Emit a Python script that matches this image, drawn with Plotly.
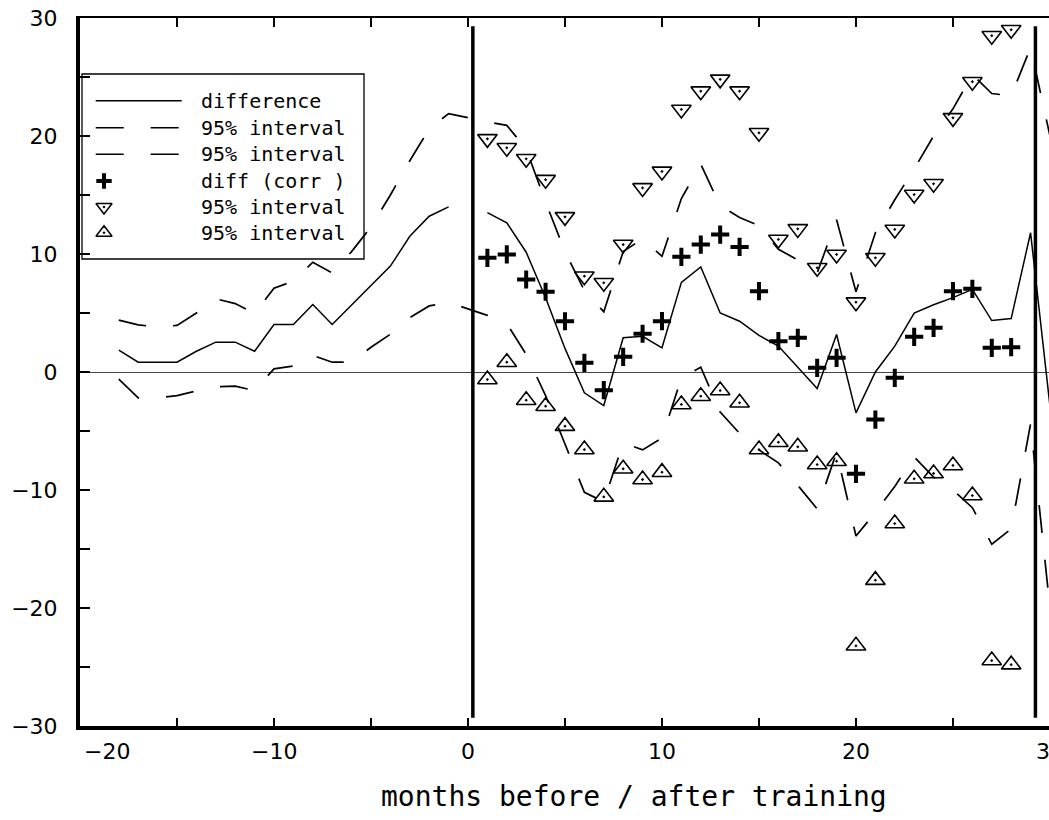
import plotly.graph_objects as go

# ---------------- data ----------------
months_pre = list(range(-18, 0))
months_post = list(range(1, 31))
months_corr = list(range(1, 29))

diff_pre = [1.85, 0.83, 0.83, 0.83, 1.76, 2.53, 2.53, 1.76, 4.03, 4.03,
            5.72, 4.03, 5.68, 7.33, 8.97, 11.5, 13.2, 14.0]
diff_post = [13.5, 12.65, 10.15, 6.3, 2.0, -1.76, -2.84, 2.9, 3.03, 2.05,
             7.6, 8.9, 5.0, 4.3, 3.1, 2.2, 0.4, -1.4, 3.18, -3.46,
             0.0, 2.19, 5.0, 5.7, 6.3, 7.0, 4.36, 4.53, 11.8, -2.9]

upper_pre = [4.4, 4.0, 3.8, 3.95, 5.0, 6.2, 5.8, 4.96, 7.1, 7.7,
             9.3, 8.4, 10.2, 12.3, 15.0, 17.9, 20.6, 21.9]
upper_post = [21.2, 20.9, 18.9, 14.4, 10.2, 6.9, 5.1, 10.2, 11.3, 9.8,
              14.7, 17.6, 14.1, 13.1, 12.4, 10.4, 9.5, 8.4, 12.9, 6.8,
              11.8, 14.6, 17.2, 20.0, 22.3, 25.2, 23.6, 23.4, 27.5, 20.0]

lower_pre = [-0.6, -2.2, -2.2, -2.0, -1.6, -1.25, -1.2, -1.57, 0.27, 0.5,
             1.4, 0.83, 0.83, 2.1, 3.2, 4.6, 5.6, 5.9]
lower_post = [4.8, 4.1, 1.5, -2.0, -6.1, -10.2, -11.0, -6.0, -6.6, -5.6,
              -0.5, 0.4, -3.4, -5.2, -6.6, -7.7, -9.6, -11.6, -6.8, -13.9,
              -11.9, -9.7, -7.2, -8.9, -10.0, -11.5, -14.6, -13.3, -4.4, -20.0]

diff_corr = [9.68, 9.96, 7.84, 6.8, 4.3, 0.78, -1.54, 1.29, 3.24, 4.31,
             9.76, 10.8, 11.65, 10.6, 6.85, 2.61, 2.9, 0.35, 1.2, -8.63,
             -4.03, -0.49, 2.98, 3.74, 6.85, 7.05, 2.05, 2.1]
upper_corr = [19.76, 19.0, 18.07, 16.3, 13.15, 8.12, 7.56, 10.8, 15.6, 17.0,
              22.25, 23.8, 24.8, 23.8, 20.27, 11.23, 12.13, 8.83, 9.96, 5.92,
              9.68, 12.08, 15.04, 15.95, 21.54, 24.6, 28.5, 29.0]
lower_corr = [-0.64, 0.83, -2.39, -2.9, -4.59, -6.57, -10.58, -8.2, -9.11, -8.49,
              -2.75, -2.05, -1.57, -2.61, -6.57, -5.95, -6.34, -7.84, -7.56, -23.2,
              -17.64, -12.84, -9.05, -8.6, -7.92, -10.47, -24.45, -24.8]

training_start = 0.25
training_end = 29.25
training_ylim = 29.3

x_tick_labels = ["\u221220", "\u221210", "0", "10", "20", "30"]
x_tick_label_vals = [-20, -10, 0, 10, 20, 30]
y_tick_vals = list(range(-30, 31, 5))
y_tick_text = [("\u2212" + str(-v) if v < 0 else str(v)) if v % 10 == 0 else "" for v in y_tick_vals]
x_tick_vals = list(range(-20, 31, 5))

legend_labels = ["difference", "95% interval", "95% interval",
                 "diff (corr )", "95% interval", "95% interval"]

# ---------------- styling ----------------
XR = [-20, 29.95]
YR = [-30, 30]
DASH = "28px,27px"
MONO = "DejaVu Sans Mono"
NUMFONT = "DejaVu Sans"

fig = go.Figure()

all_months = months_pre + months_post
line_style = dict(color="black", width=1.5)

fig.add_trace(go.Scatter(x=months_pre, y=diff_pre, mode="lines",
                         line=line_style, showlegend=False, hoverinfo="skip"))
fig.add_trace(go.Scatter(x=months_post, y=diff_post, mode="lines",
                         line=line_style, showlegend=False, hoverinfo="skip"))
fig.add_trace(go.Scatter(x=all_months, y=upper_pre + upper_post, mode="lines",
                         line=dict(color="black", width=1.7, dash=DASH),
                         showlegend=False, hoverinfo="skip"))
fig.add_trace(go.Scatter(x=all_months, y=lower_pre + lower_post, mode="lines",
                         line=dict(color="black", width=1.7, dash=DASH),
                         showlegend=False, hoverinfo="skip"))

fig.add_trace(go.Scatter(x=months_corr, y=upper_corr, mode="markers",
                         marker=dict(symbol="triangle-down-open-dot", size=17, color="black",
                                     line=dict(width=1.6, color="black")),
                         showlegend=False, hoverinfo="skip"))
fig.add_trace(go.Scatter(x=months_corr, y=lower_corr, mode="markers",
                         marker=dict(symbol="triangle-up-open-dot", size=17, color="black",
                                     line=dict(width=1.6, color="black")),
                         showlegend=False, hoverinfo="skip"))
fig.add_trace(go.Scatter(x=months_corr, y=diff_corr, mode="markers",
                         marker=dict(symbol="cross-thin", size=13, color="black",
                                     line=dict(width=4, color="black")),
                         showlegend=False, hoverinfo="skip"))

# training period boundaries (thick vertical lines), drawn on the top axis
fig.add_trace(go.Scatter(x=[training_start, training_start, None, training_end, training_end],
                         y=[-training_ylim, training_ylim, None, -training_ylim, training_ylim],
                         mode="lines", line=dict(color="black", width=3.5),
                         xaxis="x2", yaxis="y", showlegend=False, hoverinfo="skip"))

# ---------------- legend (pixel-unit overlay layer) ----------------
LG_BOX = (82, 74, 364, 259)
LG_ROWS = [100.7, 127.7, 154.3, 181, 207, 232.7]
LG_LINE_X = (95.7, 181.7)
LG_MARK_X = 104
LG_TEXT_X = 199

shapes = []
shapes.append(dict(type="rect", xref="x3", yref="y3", x0=LG_BOX[0], x1=LG_BOX[2],
                   y0=LG_BOX[1], y1=LG_BOX[3], line=dict(color="black", width=1.3),
                   fillcolor="white", layer="below"))
for i, dash in enumerate(["solid", DASH, DASH]):
    shapes.append(dict(type="line", xref="x3", yref="y3", x0=LG_LINE_X[0], x1=LG_LINE_X[1],
                       y0=LG_ROWS[i], y1=LG_ROWS[i],
                       line=dict(color="black", width=1.5, dash=dash), layer="above"))

fig.add_trace(go.Scatter(x=[LG_MARK_X], y=[LG_ROWS[3]], mode="markers",
                         marker=dict(symbol="cross-thin", size=11, color="black",
                                     line=dict(width=4, color="black")),
                         xaxis="x3", yaxis="y3", showlegend=False, hoverinfo="skip"))
fig.add_trace(go.Scatter(x=[LG_MARK_X, LG_MARK_X], y=[LG_ROWS[4], LG_ROWS[5]], mode="markers",
                         marker=dict(symbol=["triangle-down-open-dot", "triangle-up-open-dot"],
                                     size=14, color="black", line=dict(width=1.5, color="black")),
                         xaxis="x3", yaxis="y3", showlegend=False, hoverinfo="skip"))

annotations = []
for lbl, yy in zip(legend_labels, LG_ROWS):
    annotations.append(dict(text=lbl, xref="x3", yref="y3", x=LG_TEXT_X, y=yy,
                            xanchor="left", yanchor="middle", showarrow=False,
                            font=dict(family=MONO, size=20, color="black")))

# x tick labels
XLAB_Y = -0.0355
for v, t in zip(x_tick_label_vals, x_tick_labels):
    if v == -20:
        annotations.append(dict(text=t, xref="x", yref="paper", x=v, y=XLAB_Y, xshift=2,
                                xanchor="left", yanchor="middle", showarrow=False,
                                font=dict(family=NUMFONT, size=22, color="black")))
    elif v == 30:
        annotations.append(dict(text=t, xref="paper", yref="paper",
                                x=(30 - XR[0]) / (XR[1] - XR[0]), y=XLAB_Y,
                                xanchor="center", yanchor="middle", showarrow=False,
                                font=dict(family=NUMFONT, size=22, color="black")))
    else:
        annotations.append(dict(text=t, xref="x", yref="paper", x=v, y=XLAB_Y,
                                xanchor="center", yanchor="middle", showarrow=False,
                                font=dict(family=NUMFONT, size=22, color="black")))

# x-axis title
annotations.append(dict(text="months before / after training", xref="paper", yref="paper",
                        x=(634 - 80) / 969, y=-0.1, xanchor="center", yanchor="middle",
                        showarrow=False, font=dict(family=MONO, size=28, color="black")))

fig.update_layout(
    width=1049, height=820,
    margin=dict(l=80, r=0, t=18, b=94),
    paper_bgcolor="white", plot_bgcolor="white",
    showlegend=False,
    xaxis=dict(range=XR, showline=True, linewidth=4, linecolor="black",
               ticks="inside", ticklen=8, tickwidth=1.5, tickcolor="black",
               tickvals=x_tick_vals, showticklabels=False,
               showgrid=False, zeroline=False, mirror=False, fixedrange=True),
    xaxis2=dict(range=XR, overlaying="x", side="top", showline=True, linewidth=2,
                linecolor="black", ticks="inside", ticklen=9, tickwidth=1.5,
                tickcolor="black", tickvals=x_tick_vals, showticklabels=False,
                showgrid=False, zeroline=False),
    yaxis=dict(range=YR, showline=True, linewidth=4, linecolor="black",
               ticks="inside", ticklen=10, tickwidth=1.5, tickcolor="black",
               tickvals=y_tick_vals, ticktext=y_tick_text, ticklabelstandoff=14,
               tickfont=dict(family=NUMFONT, size=22, color="black"),
               showgrid=False, zeroline=True, zerolinecolor="#444", zerolinewidth=1),
    xaxis3=dict(range=[80, 1049], overlaying="x", visible=False),
    yaxis3=dict(range=[726, 18], overlaying="y", visible=False),
    shapes=shapes,
    annotations=annotations,
)

fig.write_html("out.html")
